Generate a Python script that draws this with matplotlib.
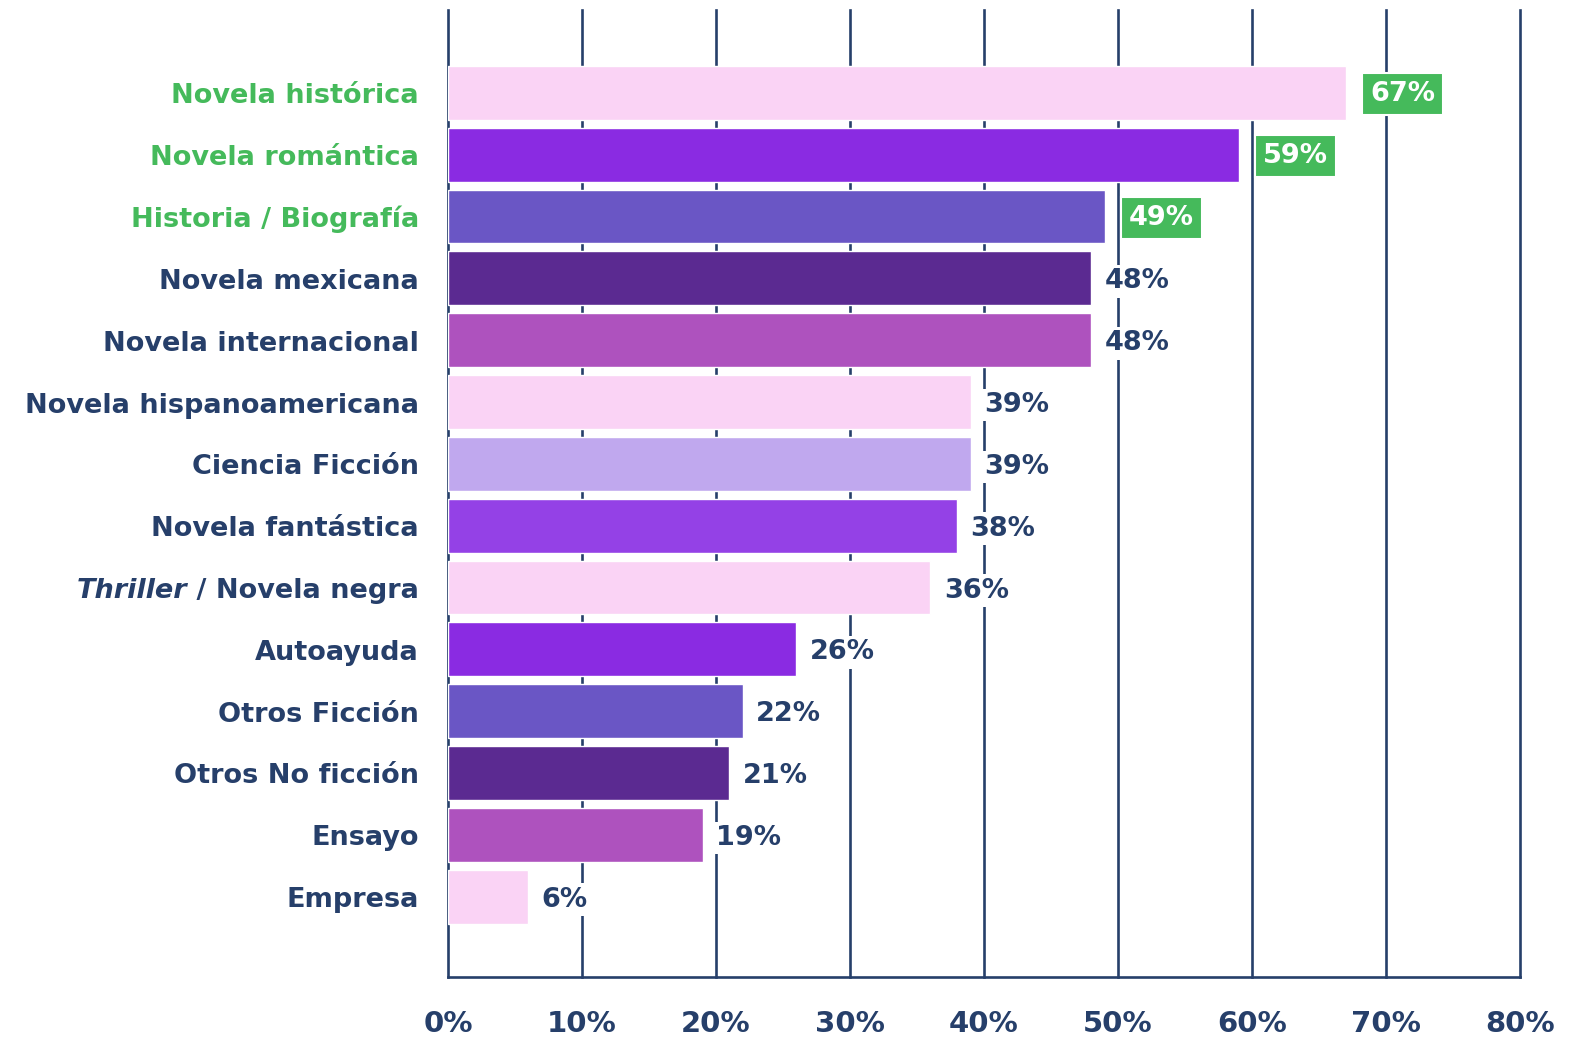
import matplotlib
matplotlib.use("Agg")
import matplotlib.pyplot as plt
import matplotlib.transforms as mtransforms

categories = ["Novela histórica", "Novela romántica", "Historia / Biografía",
              "Novela mexicana", "Novela internacional", "Novela hispanoamericana",
              "Ciencia Ficción", "Novela fantástica", "Thriller / Novela negra",
              "Autoayuda", "Otros Ficción", "Otros No ficción", "Ensayo", "Empresa"]
values = [67, 59, 49, 48, 48, 39, 39, 38, 36, 26, 22, 21, 19, 6]
highlight = [True, True, True] + [False] * 11
bar_colors = ["#FAD3F5", "#8A2BE2", "#6A56C5", "#5B2A91", "#AE52BE", "#FAD3F5",
              "#C0A8EE", "#9441E6", "#FAD3F5", "#8A2BE2", "#6A56C5", "#5B2A91",
              "#AE52BE", "#FAD3F5"]
xticks = [0, 10, 20, 30, 40, 50, 60, 70, 80]
xtick_labels = ["0%", "10%", "20%", "30%", "40%", "50%", "60%", "70%", "80%"]

NAVY = "#263F6A"
GREEN = "#45BA5B"
FONT = "DejaVu Sans"
FS = 19.5

fig = plt.figure(figsize=(15.83, 10.44), dpi=100)
ax = fig.add_axes([448 / 1583, 1 - 977 / 1044, (1520 - 448) / 1583, (977 - 10) / 1044])

ypos = list(range(len(categories)))
ax.barh(ypos, values, height=0.87, color=bar_colors, edgecolor="white",
        linewidth=1.0, zorder=3)

ax.set_xlim(0, 80)
ax.set_ylim(len(categories) - 1 + 1.3, -1.34)

for x in xticks:
    ax.axvline(x, color=NAVY, linewidth=1.9, zorder=1, clip_on=False)

for s in ["top", "right", "left"]:
    ax.spines[s].set_visible(False)
ax.spines["bottom"].set_color(NAVY)
ax.spines["bottom"].set_linewidth(1.9)
ax.spines["bottom"].set_zorder(4)

ax.set_yticks([])
ax.set_xticks(xticks)
ax.set_xticklabels(xtick_labels, fontsize=21, color=NAVY, fontfamily=FONT,
                   fontweight="semibold")
ax.tick_params(axis="x", length=0, pad=24)

lab_trans = mtransforms.blended_transform_factory(ax.transAxes, ax.transData)
xl = -29 / (1520 - 448)
base_off = 0.17

fig.canvas.draw()
renderer = fig.canvas.get_renderer()

for i, (cat, v, hl) in enumerate(zip(categories, values, highlight)):
    col = GREEN if hl else NAVY
    if cat.startswith("Thriller"):
        t = ax.text(xl, i + base_off, " / Novela negra", ha="right", va="baseline",
                    fontsize=FS, fontweight="bold", color=col, fontfamily=FONT,
                    transform=lab_trans)
        bb = t.get_window_extent(renderer=renderer)
        off = mtransforms.ScaledTranslation(-bb.width / fig.dpi, 0, fig.dpi_scale_trans)
        ax.text(xl, i + base_off, "Thriller", ha="right", va="baseline",
                fontsize=FS, fontweight="bold", fontstyle="italic", color=col,
                fontfamily=FONT, transform=lab_trans + off)
    else:
        ax.text(xl, i + base_off, cat, ha="right", va="baseline",
                fontsize=FS, fontweight="bold", color=col, fontfamily=FONT,
                transform=lab_trans)
    if hl:
        ax.text(v + 1.8, i + 0.02, f"{v}%", ha="left", va="center",
                fontsize=FS, fontweight="bold", color="white", fontfamily=FONT,
                zorder=5,
                bbox=dict(boxstyle="square,pad=0.3", facecolor=GREEN,
                          edgecolor="white", linewidth=1.5))
    else:
        ax.text(v + 1.0, i + 0.05, f"{v}%", ha="left", va="center",
                fontsize=FS, fontweight="bold", color=NAVY, fontfamily=FONT,
                zorder=5,
                bbox=dict(boxstyle="square,pad=0.12", facecolor="white",
                          edgecolor="none"))

fig.savefig("out.png", dpi=100)
